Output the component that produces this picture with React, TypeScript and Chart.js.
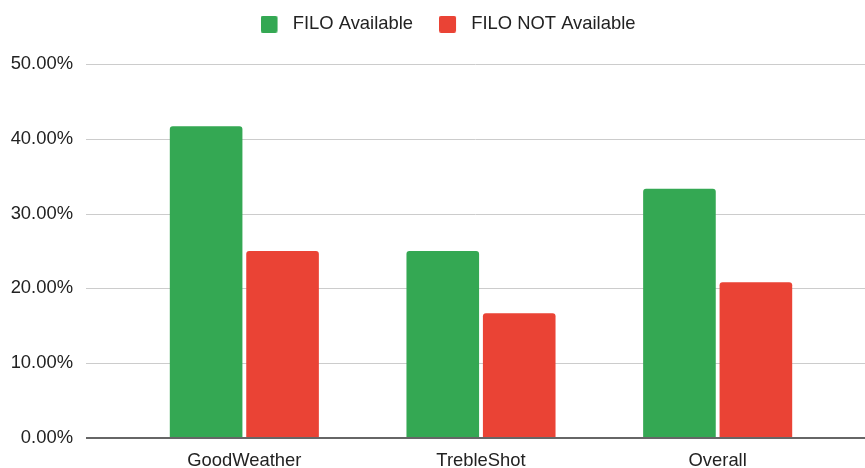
import React, { useEffect, useRef } from "react";
import { Chart, registerables } from "chart.js";

Chart.register(...registerables);

const categories = ["GoodWeather", "TrebleShot", "Overall"];
const seriesNames = ["FILO Available", "FILO NOT Available"];
const filoAvailable = [41.67, 25.0, 33.33];
const filoNotAvailable = [25.0, 16.67, 20.83];
const yMin = 0;
const yMax = 50;
const yStep = 10;

const GREEN = "#34a853";
const RED = "#ea4335";
const TEXT = "#222222";
const FONT = "'Liberation Sans', Arial, sans-serif";
const FONT_SIZE = 18.4;
const LEGEND_PAD = 26;
const ICON = 17;

function makeIcon(color: string): HTMLCanvasElement {
  const c = document.createElement("canvas");
  c.width = 23;
  c.height = ICON;
  const g = c.getContext("2d")!;
  g.fillStyle = color;
  g.beginPath();
  const r = 2;
  const s = ICON;
  g.moveTo(r, 0);
  g.lineTo(s - r, 0);
  g.quadraticCurveTo(s, 0, s, r);
  g.lineTo(s, s - r);
  g.quadraticCurveTo(s, s, s - r, s);
  g.lineTo(r, s);
  g.quadraticCurveTo(0, s, 0, s - r);
  g.lineTo(0, r);
  g.quadraticCurveTo(0, 0, r, 0);
  g.closePath();
  g.fill();
  return c;
}

const fullGrid = {
  id: "fullGrid",
  beforeDatasetsDraw(chart: any) {
    const y = chart.scales.y;
    const ctx = chart.ctx;
    const left = chart.chartArea.left - 40;
    ctx.save();
    ctx.strokeStyle = "#cccccc";
    ctx.lineWidth = 1;
    y.ticks.forEach((t: any) => {
      if (t.value === 0) return;
      const py = Math.round(y.getPixelForValue(t.value)) + 0.5;
      ctx.beginPath();
      ctx.moveTo(left, py);
      ctx.lineTo(chart.width, py);
      ctx.stroke();
    });
    ctx.restore();
  },
  afterDatasetsDraw(chart: any) {
    const y = chart.scales.y;
    const ctx = chart.ctx;
    const left = chart.chartArea.left - 40;
    const py = Math.round(y.getPixelForValue(0));
    ctx.save();
    ctx.strokeStyle = "#666666";
    ctx.lineWidth = 2;
    ctx.beginPath();
    ctx.moveTo(left, py);
    ctx.lineTo(chart.width, py);
    ctx.stroke();
    ctx.restore();
  },
};

const legendPlacement = {
  id: "legendPlacement",
  beforeInit(chart: any) {
    const lg = chart.legend;
    if (!lg) return;
    const orig = lg.fit;
    lg.fit = function () {
      orig.call(this);
      this.height = 62;
    };
  },
  afterLayout(chart: any) {
    const lg = chart.legend;
    if (!lg) return;
    lg.left = 60;
    lg.top = 15 - LEGEND_PAD;
  },
};

export default function App() {
  const ref = useRef<HTMLCanvasElement | null>(null);

  useEffect(() => {
    if (!ref.current) return;
    const icons = [makeIcon(GREEN), makeIcon(RED)];
    const chart = new Chart(ref.current, {
      type: "bar",
      data: {
        labels: categories,
        datasets: [
          {
            label: seriesNames[0],
            data: filoAvailable,
            backgroundColor: GREEN,
            borderRadius: 3,
            barPercentage: 0.95,
            categoryPercentage: 0.646,
          },
          {
            label: seriesNames[1],
            data: filoNotAvailable,
            backgroundColor: RED,
            borderRadius: 3,
            barPercentage: 0.95,
            categoryPercentage: 0.646,
          },
        ],
      },
      options: {
        responsive: false,
        animation: false,
        layout: { padding: { left: 0, right: 29, top: 2, bottom: 0 } },
        plugins: {
          legend: {
            position: "top",
            labels: {
              usePointStyle: true,
              pointStyleWidth: 23,
              boxHeight: ICON,
              padding: LEGEND_PAD,
              color: TEXT,
              font: { family: FONT, size: FONT_SIZE },
              generateLabels: (c: any) => {
                const items = (Chart as any).defaults.plugins.legend.labels.generateLabels(c);
                items.forEach((it: any, i: number) => {
                  it.pointStyle = icons[i % icons.length];
                });
                return items;
              },
            },
          },
          tooltip: { enabled: false },
        },
        scales: {
          x: {
            grid: { display: false, drawTicks: false },
            border: { display: false },
            ticks: {
              color: TEXT,
              padding: 12,
              font: { family: FONT, size: FONT_SIZE },
            },
            afterFit: (scale: any) => {
              scale.height = 30;
            },
          },
          y: {
            min: yMin,
            max: yMax,
            grid: { display: false, drawTicks: false },
            border: { display: false },
            ticks: {
              stepSize: yStep,
              color: TEXT,
              padding: 53,
              font: { family: FONT, size: FONT_SIZE },
              callback: (v: any) => Number(v).toFixed(2) + "%",
            },
            afterFit: (scale: any) => {
              scale.width = 126;
              scale.paddingTop = 0;
              scale.paddingBottom = 0;
            },
          },
        },
      },
      plugins: [legendPlacement, fullGrid],
    });
    return () => chart.destroy();
  }, []);

  return (
    <div style={{ position: "absolute", left: 0, top: 0, width: 865, height: 468, background: "#fff" }}>
      <canvas ref={ref} width={865} height={468} style={{ display: "block" }} />
    </div>
  );
}
